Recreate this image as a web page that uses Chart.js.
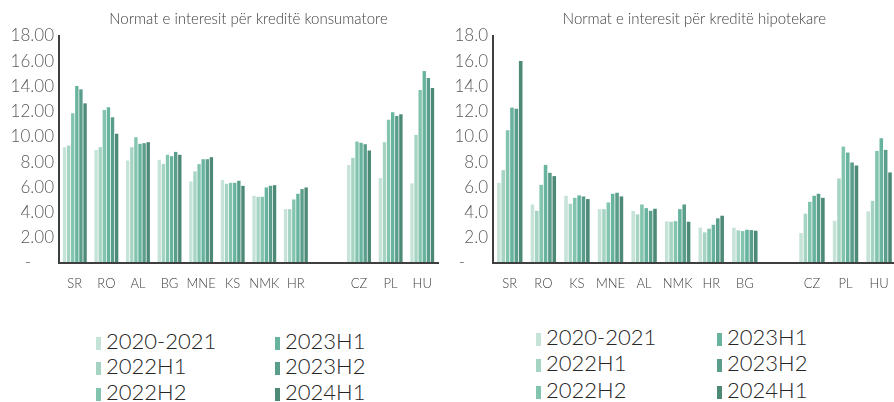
<!DOCTYPE html>
<html>
<head>
<meta charset="utf-8">
<script src="https://cdn.jsdelivr.net/npm/chart.js@4.4.0/dist/chart.umd.min.js"></script>
<style>
  html, body { margin: 0; padding: 0; background: #fff; width: 894px; height: 402px; overflow: hidden; position: relative; }
  .wrap { position: absolute; top: 0; height: 300px; }
  #w1 { left: 0; width: 447px; }
  #w2 { left: 440px; width: 462px; }
  .legend { position: absolute; font-family: "Lato", "Open Sans", sans-serif; font-weight: 300; font-size: 22px; color: #262626; }
  .item { position: absolute; white-space: nowrap; line-height: 24px; }
  .box { display: inline-block; width: 5px; height: 13px; margin-right: 5px; vertical-align: -1px; }
</style>
</head>
<body>
<div class="wrap" id="w1"><canvas id="c1"></canvas></div>
<div class="wrap" id="w2"><canvas id="c2"></canvas></div>
<div class="legend" id="l1"></div>
<div class="legend" id="l2"></div>
<script>
// ---- Data ----
const seriesNames = ["2020-2021", "2022H1", "2022H2", "2023H1", "2023H2", "2024H1"];
const seriesColors = ["#c6e3d8", "#a6d4c3", "#83c4ae", "#67b39e", "#599d8a", "#4d8977"];

const consumerTitle = "Normat e interesit për kreditë konsumatore";
const consumerCats = ["SR", "RO", "AL", "BG", "MNE", "KS", "NMK", "HR", "", "CZ", "PL", "HU"];
const consumer2020_2021 = [9.18, 8.97, 8.13, 8.18, 6.46, 6.57, 5.33, 4.27, null, 7.76, 6.73, 6.31];
const consumer2022H1    = [9.31, 9.18, 9.18, 7.86, 7.26, 6.28, 5.25, 4.27, null, 8.34, 9.58, 10.16];
const consumer2022H2    = [11.87, 12.14, 9.97, 8.58, 7.84, 6.36, 5.25, 5.04, null, 9.63, 11.35, 13.72];
const consumer2023H1    = [14.04, 12.35, 9.45, 8.47, 8.23, 6.36, 5.99, 5.49, null, 9.53, 11.95, 15.22];
const consumer2023H2    = [13.77, 11.56, 9.50, 8.81, 8.23, 6.52, 6.12, 5.86, null, 9.42, 11.66, 14.67];
const consumer2024H1    = [12.66, 10.24, 9.58, 8.58, 8.39, 6.12, 6.17, 5.99, null, 8.92, 11.79, 13.88];

const mortgageTitle = "Normat e interesit për kreditë hipotekare";
const mortgageCats = ["SR", "RO", "KS", "MNE", "AL", "NMK", "HR", "BG", "", "CZ", "PL", "HU"];
const mortgage2020_2021 = [6.36, 4.64, 5.33, 4.27, 4.12, 3.30, 2.80, 2.80, null, 2.37, 3.35, 4.09];
const mortgage2022H1    = [7.36, 4.14, 4.70, 4.27, 3.85, 3.27, 2.43, 2.59, null, 3.91, 6.70, 4.93];
const mortgage2022H2    = [10.53, 6.20, 5.17, 4.80, 4.64, 3.32, 2.72, 2.53, null, 4.85, 9.23, 8.89];
const mortgage2023H1    = [12.32, 7.78, 5.36, 5.49, 4.35, 4.27, 3.03, 2.64, null, 5.33, 8.76, 9.89];
const mortgage2023H2    = [12.24, 7.15, 5.28, 5.57, 4.14, 4.64, 3.54, 2.61, null, 5.49, 7.97, 8.97];
const mortgage2024H1    = [16.02, 6.89, 5.07, 5.28, 4.30, 3.27, 3.75, 2.56, null, 5.17, 7.73, 7.18];

const yTicks = [0, 2, 4, 6, 8, 10, 12, 14, 16, 18];

// ---- Build ----
const FONT = '"Lato", "Open Sans", sans-serif';
function makeChart(id, title, cats, series, decimals, yWidth, padRight) {
  const datasets = series.map((d, i) => ({
    label: seriesNames[i],
    data: d,
    backgroundColor: seriesColors[i],
    categoryPercentage: 0.78,
    barPercentage: 0.82
  }));
  return new Chart(document.getElementById(id), {
    type: 'bar',
    data: { labels: cats, datasets },
    options: {
      responsive: true,
      maintainAspectRatio: false,
      animation: false,
      layout: { padding: { left: 0, right: padRight, top: 0, bottom: 0 } },
      plugins: {
        legend: { display: false },
        tooltip: { enabled: false },
        title: {
          display: true, text: title, fullSize: false,
          color: '#404040',
          font: { family: FONT, size: 15, weight: 300, lineHeight: 1.2 },
          padding: { top: 10, bottom: 8 }
        }
      },
      scales: {
        x: {
          grid: { display: false, drawTicks: false },
          border: { display: true, dash: [5, 4], color: '#3f3f3f', width: 2, z: 1 },
          ticks: { color: '#404040', font: { family: FONT, size: 13, weight: 300 }, padding: 13, maxRotation: 0, autoSkip: false },
          afterFit: s => { s.height = 37; }
        },
        y: {
          min: 0, max: 18,
          afterBuildTicks: s => { s.ticks = yTicks.map(v => ({ value: v })); },
          grid: { display: false, drawTicks: false },
          border: { display: true, dash: [5, 4], color: '#3f3f3f', width: 2, z: 1 },
          ticks: {
            color: '#595959', font: { family: FONT, size: 17, weight: 300 }, padding: 5,
            callback: v => v === 0 ? '-     ' : Number(v).toFixed(decimals)
          },
          afterFit: s => { s.width = yWidth; }
        }
      }
    }
  });
}

makeChart('c1', consumerTitle, consumerCats,
  [consumer2020_2021, consumer2022H1, consumer2022H2, consumer2023H1, consumer2023H2, consumer2024H1], 2, 59, 9);
makeChart('c2', mortgageTitle, mortgageCats,
  [mortgage2020_2021, mortgage2022H1, mortgage2022H2, mortgage2023H1, mortgage2023H2, mortgage2024H1], 1, 53, 0);

// ---- HTML legends ----
function buildLegend(id, left, colX, rowY) {
  const el = document.getElementById(id);
  el.style.left = left + 'px';
  el.style.top = '0px';
  seriesNames.forEach((n, i) => {
    const col = Math.floor(i / 3), row = i % 3;
    const d = document.createElement('div');
    d.className = 'item';
    d.style.left = colX[col] + 'px';
    d.style.top = rowY[row] + 'px';
    d.innerHTML = '<span class="box" style="background:' + seriesColors[i] + '"></span>' + n;
    el.appendChild(d);
  });
}
buildLegend('l1', 0, [96, 275], [329, 354, 380]);
buildLegend('l2', 0, [536, 717], [325, 351, 378]);
</script>
</body>
</html>
